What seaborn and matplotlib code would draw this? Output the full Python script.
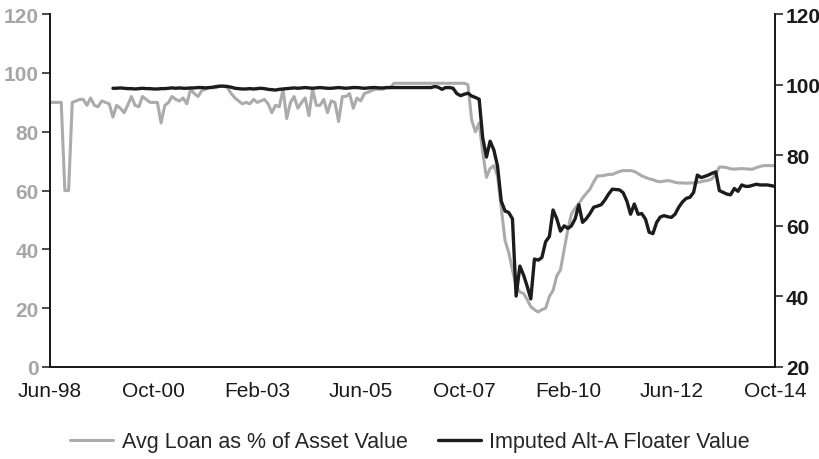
import pandas as pd
import matplotlib.pyplot as plt
import matplotlib.dates as mdates
import seaborn as sns

# monthly series, Jun-98 .. Oct-14
loan_start = "1998-06-01"
loan_pct = [
    90, 90, 90, 90, 60, 60, 90, 90.5, 91, 91, 89, 91.5, 89, 88.5, 90.5, 90, 89.5, 85, 89, 88,
    86.5, 89, 92, 89, 88.5, 92, 91, 90, 90, 90, 83, 89, 90, 92, 91, 90.5, 91.5, 89.5, 94.5, 93,
    92, 94, 94.5, 95, 95, 95, 95.5, 95.5, 95, 93, 91.5, 90.5, 89.5, 90, 89.5, 91, 90, 90.5, 91, 89.5,
    86.5, 89, 88.5, 94.5, 84.5, 90, 92, 88, 90, 91.5, 85.5, 94.5, 89, 89, 91, 86.5, 90.5, 90, 83.5, 92,
    92, 93, 88, 91.5, 90.5, 93, 93.5, 94, 94.5, 94.5, 94.5, 95, 95, 96.5, 96.5, 96.5, 96.5, 96.5, 96.5, 96.5,
    96.5, 96.5, 96.5, 96.5, 96.5, 96.5, 96.5, 96.5, 96.5, 96.5, 96.5, 96.5, 96.5, 96, 84, 80, 83, 73,
    64.5, 67.5, 68.5, 65, 54, 43, 39, 33, 27.5, 25.5, 25, 23, 20.5, 19.5, 18.7, 19.5, 20, 24, 26, 31,
    33, 40, 47, 52, 54, 55.5, 57.5, 59, 60.5, 63, 65, 65, 65.2, 65.5, 65.5, 66, 66.5, 66.8, 66.8, 66.8,
    66.5, 65.8, 65, 64.5, 64, 63.7, 63.2, 63, 63.2, 63.4, 63.2, 62.8, 62.6, 62.6, 62.5, 62.6, 62.6, 62.8, 63, 63.3,
    63.5, 64, 65.5, 68, 68, 67.8, 67.4, 67.3, 67.4, 67.5, 67.4, 67.3, 67.3, 67.8, 68.2, 68.5, 68.5, 68.5, 68.5, 68.5,
]

floater_start = "1999-11-01"
floater_val = [
    99.0, 99.0, 99.1, 99.0, 98.9, 98.9, 98.8, 98.9, 99.0, 98.9, 98.9, 98.8, 98.8,
    98.9, 98.9, 99.0, 99.1, 99.0, 99.1, 99.0, 99.0, 99.1, 99.1, 99.2, 99.2, 99.1, 99.2, 99.3,
    99.5, 99.6, 99.6, 99.5, 99.3, 99.0,
    98.9, 98.8, 98.8, 98.9, 98.8, 98.9, 99.0, 98.9, 98.7, 98.6, 98.5, 98.7, 98.8, 98.9,
    99.0, 99.1, 99.0, 99.1, 99.2, 99.1, 99.0, 99.1, 99.2, 99.1, 99.0, 99.0, 99.1, 99.2, 99.1,
    99.0, 99.1, 99.2, 99.2, 99.1, 99.0, 99.1, 99.2, 99.2, 99.1, 99.1, 99.2, 99.2, 99.2,
    99.2, 99.2, 99.2, 99.2, 99.2, 99.2, 99.2, 99.2, 99.2, 99.2, 99.5, 99.3, 98.7, 99.2,
    99.2, 99.0, 97.5, 96.9, 97.3, 97.6, 96.8, 96.4, 95.9, 85, 79.5, 84, 81.5, 77, 67, 64.2,
    63.8, 62, 40.1, 48.6, 46, 43, 39.3, 50.6, 50.3, 51, 55.5, 57, 64.5, 62, 58.5, 60, 59.3,
    60, 62, 66, 61, 62, 63.5, 65.3, 65.6, 66, 67.3, 69, 70.4, 70.3, 70.2, 69.4, 67, 63.3,
    66.2, 63.3, 63.5, 61.9, 58.2, 57.8, 61, 62.5, 62.9, 62.6, 62.4, 63.3, 65.3, 66.8, 67.8,
    68.1, 69.5, 74.4, 73.7, 74, 74.4, 74.9, 75.3, 70, 69.5, 69, 68.8, 70.6, 69.8, 71.6, 71.2,
    71.2, 71.5, 71.8, 71.6, 71.6, 71.6, 71.4, 71.2,
]

loan_dates = pd.date_range(loan_start, periods=len(loan_pct), freq="MS")
floater_dates = pd.date_range(floater_start, periods=len(floater_val), freq="MS")

sns.set_style("white")
plt.rcParams["font.family"] = ["Liberation Sans", "DejaVu Sans"]

fig = plt.figure(figsize=(8.2, 4.6), dpi=100)
ax = fig.add_axes([0.061, 0.2, 0.884, 0.767])
ax2 = ax.twinx()

sns.lineplot(x=loan_dates, y=loan_pct, ax=ax, color="#ababab", linewidth=2.2,
             label="Avg Loan as % of Asset Value", legend=False)
sns.lineplot(x=floater_dates, y=floater_val, ax=ax2, color="#1c1c1c", linewidth=2.4,
             label="Imputed Alt-A Floater Value", legend=False)

ax.set_xlim(pd.Timestamp("1998-06-01"), pd.Timestamp("2014-10-01"))
ax.set_ylim(0, 120)
ax2.set_ylim(20, 120)
ax.set_yticks(range(0, 121, 20))
ax2.set_yticks(range(20, 121, 20))

ticks = pd.date_range("1998-06-01", "2014-10-01", freq="28MS")
ax.set_xticks(ticks)
ax.xaxis.set_major_formatter(mdates.DateFormatter("%b-%y"))
ax.set_xlabel("")
ax.set_ylabel("")
ax2.set_ylabel("")

for a in (ax, ax2):
    a.spines["top"].set_visible(False)
    for s in ("left", "right", "bottom"):
        a.spines[s].set_color("#1a1a1a")
        a.spines[s].set_linewidth(1.3)

ax.tick_params(axis="x", direction="out", length=6, width=1.1, color="#1a1a1a",
               labelsize=15, labelcolor="#1a1a1a", pad=4)
ax.tick_params(axis="y", direction="out", length=6, width=1.1, color="#1a1a1a",
               labelsize=15, labelcolor="#a6a6a6", pad=2, left=True)
ax2.tick_params(axis="y", direction="out", length=6, width=1.1, color="#1a1a1a",
                labelsize=15, labelcolor="#1a1a1a", pad=2, right=True)
for lab in ax.get_yticklabels() + ax2.get_yticklabels():
    lab.set_fontweight("bold")

h1, l1 = ax.get_legend_handles_labels()
h2, l2 = ax2.get_legend_handles_labels()
fig.legend(h1 + h2, l1 + l2, loc="center", bbox_to_anchor=(0.5, 0.037), ncol=2,
           frameon=False, fontsize=15.5, handlelength=2.0, columnspacing=1.4, handletextpad=0.4)

fig.savefig("out.png", dpi=100)
